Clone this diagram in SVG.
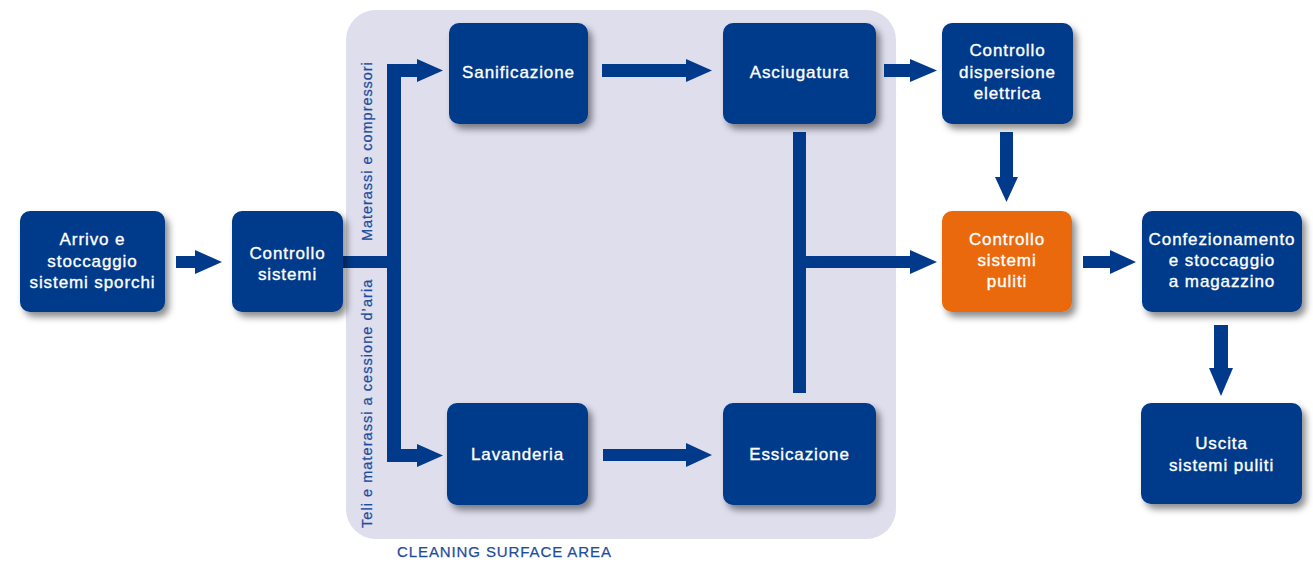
<svg xmlns="http://www.w3.org/2000/svg" width="1313" height="563" viewBox="0 0 1313 563">
<defs>
<filter id="sh" x="-20%" y="-20%" width="150%" height="150%">
<feDropShadow dx="4" dy="5" stdDeviation="3.5" flood-color="#000" flood-opacity="0.45"/>
</filter>
<style>
.node{fill:#013a8b;filter:url(#sh)}
.orange{fill:#ea690c;filter:url(#sh)}
.t{font-family:"Liberation Sans",Arial,sans-serif;font-size:17px;fill:#fff;stroke:#fff;stroke-width:0.35px;text-anchor:middle;letter-spacing:0.9px}
.v{font-family:"Liberation Sans",Arial,sans-serif;font-size:14.5px;fill:#1e4d9c;stroke:#1e4d9c;stroke-width:0.25px;letter-spacing:0.95px}
.c{fill:#013a8b}
</style>
</defs>
<rect x="346" y="10" width="550" height="529" rx="30" ry="30" fill="#dedeed"/>
<text class="v" x="397" y="557" style="font-size:15px;letter-spacing:0.9px">CLEANING SURFACE AREA</text>
<text class="v" transform="translate(372,241) rotate(-90)">Materassi e compressori</text>
<text class="v" transform="translate(372,528) rotate(-90)" style="letter-spacing:1.05px">Teli e materassi a cessione d’aria</text>

<g id="connectors" class="c">
<rect x="176" y="256" width="20" height="12"/><polygon points="195,250 222,262 195,274"/>
<rect x="343" y="256" width="58" height="12"/>
<rect x="387" y="64" width="14" height="398"/>
<rect x="387" y="64" width="31" height="13"/><polygon points="417,59 443,70.5 417,82"/>
<rect x="387" y="449" width="31" height="13"/><polygon points="417,444 443,455.5 417,467"/>
<rect x="602" y="64" width="85" height="13"/><polygon points="686,59 712,70.5 686,82"/>
<rect x="603" y="449" width="84" height="12"/><polygon points="686,443 712,455 686,467"/>
<rect x="884" y="64" width="27" height="13"/><polygon points="910,59 937,70.5 910,82"/>
<rect x="793" y="132" width="13" height="261"/>
<rect x="806" y="256" width="105" height="12"/><polygon points="910,250 937,262 910,274"/>
<rect x="1000" y="132" width="13" height="46"/><polygon points="995,177 1006.5,202 1018,177"/>
<rect x="1083" y="256" width="28" height="12"/><polygon points="1110,250 1136,262 1110,274"/>
<rect x="1214" y="325" width="14" height="44"/><polygon points="1209,368 1221,396 1233,368"/>
</g>

<g id="arrivo"><rect class="node" x="20" y="211" width="145" height="101" rx="10"/>
<text class="t"><tspan x="92.5" y="245">Arrivo e</tspan><tspan x="92.5" y="266.5">stoccaggio</tspan><tspan x="92.5" y="287.5">sistemi sporchi</tspan></text></g>

<g id="controllo-sistemi"><rect class="node" x="232" y="211" width="111" height="101" rx="10"/>
<text class="t"><tspan x="287.5" y="258.5">Controllo</tspan><tspan x="287.5" y="279.5">sistemi</tspan></text></g>

<g id="sanificazione"><rect class="node" x="449" y="23" width="139" height="101" rx="10"/>
<text class="t" x="518.5" y="78">Sanificazione</text></g>

<g id="asciugatura"><rect class="node" x="723" y="23" width="153" height="101" rx="10"/>
<text class="t" x="799.5" y="78">Asciugatura</text></g>

<g id="lavanderia"><rect class="node" x="447" y="403" width="141" height="102" rx="10"/>
<text class="t" x="517.5" y="460">Lavanderia</text></g>

<g id="essicazione"><rect class="node" x="723" y="403" width="153" height="102" rx="10"/>
<text class="t" x="799.5" y="460">Essicazione</text></g>

<g id="controllo-dispersione"><rect class="node" x="942" y="23" width="131" height="101" rx="10"/>
<text class="t"><tspan x="1007.5" y="56">Controllo</tspan><tspan x="1007.5" y="77.5">dispersione</tspan><tspan x="1007.5" y="98.5">elettrica</tspan></text></g>

<g id="controllo-puliti"><rect class="orange" x="942" y="211" width="130" height="101" rx="10"/>
<text class="t"><tspan x="1007" y="244.5">Controllo</tspan><tspan x="1007" y="265.5">sistemi</tspan><tspan x="1007" y="287">puliti</tspan></text></g>

<g id="confezionamento"><rect class="node" x="1142" y="211" width="160" height="101" rx="10"/>
<text class="t"><tspan x="1222" y="244.5">Confezionamento</tspan><tspan x="1222" y="265.5">e stoccaggio</tspan><tspan x="1222" y="287">a magazzino</tspan></text></g>

<g id="uscita"><rect class="node" x="1141" y="403" width="161" height="101" rx="10"/>
<text class="t"><tspan x="1221.5" y="448.5">Uscita</tspan><tspan x="1221.5" y="470.5">sistemi puliti</tspan></text></g>
</svg>
